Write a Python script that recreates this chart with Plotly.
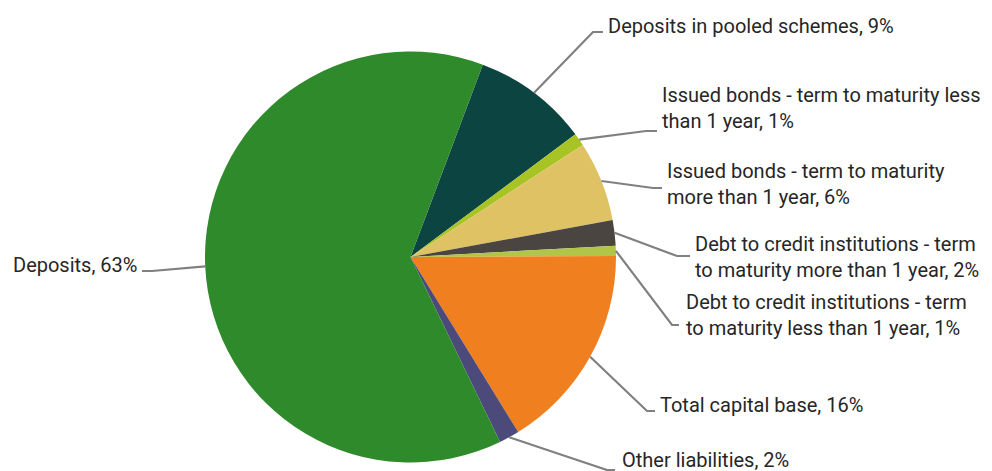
import math
import plotly.graph_objects as go

# ---- data ----
labels = [
    "Deposits in pooled schemes",
    "Issued bonds - term to maturity less than 1 year",
    "Issued bonds - term to maturity more than 1 year",
    "Debt to credit institutions - term to maturity more than 1 year",
    "Debt to credit institutions - term to maturity less than 1 year",
    "Total capital base",
    "Other liabilities",
    "Deposits",
]
values = [9.1, 1.0, 6.3, 2.0, 0.8, 16.3, 1.6, 62.9]
label_texts = [
    "Deposits in pooled schemes",
    "Issued bonds - term to maturity less<br>than 1 year",
    "Issued bonds - term to maturity<br>more than 1 year",
    "Debt to credit institutions - term<br>to maturity more than 1 year",
    "Debt to credit institutions - term<br>to maturity less than 1 year",
    "Total capital base",
    "Other liabilities",
    "Deposits",
]
colors = ["#0c4441", "#a8c424", "#dfc264", "#4a4540", "#b1c548",
          "#ef7f1f", "#4b4a7b", "#2e8a2b"]

# ---- layout (pixels) ----
W, H = 992, 471
CX, CY, R = 410.5, 257.0, 205.5
ROT = 20.6  # degrees clockwise from 12 o'clock where first slice starts

# label anchor (x, y-center, side), elbow point, line end
label_pos = [(606, 26, "left"), (660, 108, "left"), (665, 184, "left"),
             (693, 257, "left"), (684, 315, "left"), (658, 405, "left"),
             (620, 460, "left"), (139, 265, "right")]
elbows = [(593, 32), (646, 131), (653, 188), (677, 256), (672, 325),
          (647, 411), (607, 470), (152, 271)]
line_ends = [(603, 32), (657, 131), (662, 188), (690, 256), (679, 325),
             (655, 411), (615, 470), (142, 271)]

fig = go.Figure()
fig.add_trace(go.Pie(
    labels=labels, values=values, sort=False, direction="clockwise",
    rotation=ROT, textinfo="none", hoverinfo="label+percent",
    marker=dict(colors=colors, line=dict(width=0)),
    domain=dict(x=[(CX - R) / W, (CX + R) / W],
                y=[1 - (CY + R) / H, 1 - (CY - R) / H]),
    showlegend=False,
))

total = sum(values)
cum = 0.0
shapes = []
annotations = []
for i, v in enumerate(values):
    mid = ROT + (cum + v / 2) / total * 360.0
    cum += v
    a = math.radians(mid)
    sx = CX + R * math.sin(a)
    sy = CY - R * math.cos(a)
    ex, ey = elbows[i]
    lx, ly = line_ends[i]
    path = f"M {sx/W} {1-sy/H} L {ex/W} {1-ey/H} L {lx/W} {1-ly/H}"
    shapes.append(dict(type="path", xref="paper", yref="paper", path=path,
                       line=dict(color="#808080", width=2.2)))
    pct = int(math.floor(v / total * 100 + 0.5))
    tx, ty, side = label_pos[i]
    annotations.append(dict(
        x=tx / W, y=1 - ty / H, xref="paper", yref="paper",
        text=f"{label_texts[i]}, {pct}%", showarrow=False,
        xanchor=side, yanchor="middle", align="left",
        font=dict(family="Roboto", size=20, color="#262626"),
    ))

fig.update_layout(
    width=W, height=H, margin=dict(l=0, r=0, t=0, b=0),
    paper_bgcolor="white", plot_bgcolor="white",
    shapes=shapes, annotations=annotations,
)
fig.write_html("out.html", config={"displayModeBar": False},
               post_script="document.body.style.margin='0';document.body.style.overflow='hidden';")
